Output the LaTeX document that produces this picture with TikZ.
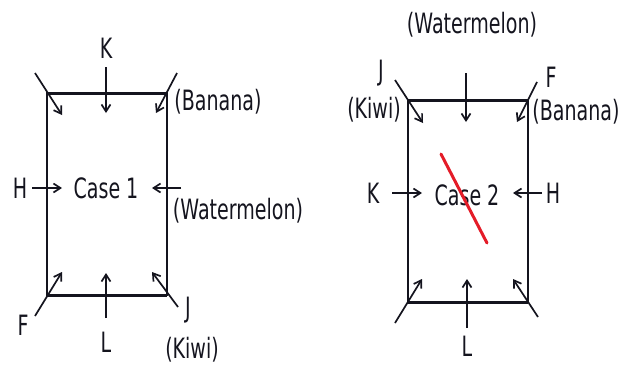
\documentclass[tikz,border=0pt]{standalone}
\usepackage{fontspec}
\setmainfont[FakeStretch=0.68]{DejaVu Sans}
\usetikzlibrary{arrows.meta}
\definecolor{ink}{RGB}{20,20,30}
\definecolor{cross}{RGB}{228,28,40}
\tikzset{
  lbl/.style={inner sep=0pt,text=ink,font=\fontsize{28}{32}\selectfont},
  box/.style={draw=ink,line width=2pt},
  arr/.style={draw=ink,line width=1.7pt,-{Straight Barb[length=7pt,width=9pt]}}
}
\begin{document}
\begin{tikzpicture}[x=1pt,y=-1pt]
        \useasboundingbox (0,0) rectangle (630,367);
        \coordinate(a1) at (47,93);
        \coordinate(b1) at (167,93);
        \coordinate(c1) at (167,295);
        \coordinate(d1) at (47,295);
        \draw[box](a1)--(b1)--(c1)--(d1)--cycle;
        \draw[box,line width=3pt](a1)--(b1) (d1)--(c1);
        \node[lbl](k1) at (106,48) {K};
        \node[lbl](h1) at (20,188) {H};
        \node[lbl](case1) at (106,188) {Case 1};
        \node[lbl](l1) at (106,342) {L};
        \node[lbl](f1) at (23,325) {F};
        \node[lbl](j1) at (188,310) {J};
        \node[lbl](kiwi1) at (192,350) {(Kiwi)};
        \node[lbl](ban1) at (218,102) {(Banana)};
        \node[lbl](wat1) at (238,211) {(Watermelon)};
        \coordinate(tl1s) at (35,73);  \coordinate(tl1e) at (62,115);
        \coordinate(tr1s) at (177,73); \coordinate(tr1e) at (156,113);
        \coordinate(bl1s) at (35,316); \coordinate(bl1e) at (62,272);
        \coordinate(br1s) at (178,307);\coordinate(br1e) at (152,272);
        \coordinate(k1s) at (106,67);  \coordinate(k1e) at (106,113);
        \coordinate(l1s) at (106,318); \coordinate(l1e) at (106,273);
        \coordinate(h1s) at (32,188);  \coordinate(h1e) at (62,188);
        \coordinate(w1s) at (181,188); \coordinate(w1e) at (152,188);
        \draw[arr](tl1s)--(tl1e);
        \draw[arr](tr1s)--(tr1e);
        \draw[arr](bl1s)--(bl1e);
        \draw[arr](br1s)--(br1e);
        \draw[arr](k1s)--(k1e);
        \draw[arr](l1s)--(l1e);
        \draw[arr](h1s)--(h1e);
        \draw[arr](w1s)--(w1e);
        \coordinate(a2) at (408,100);
        \coordinate(b2) at (528,100);
        \coordinate(c2) at (528,302);
        \coordinate(d2) at (408,302);
        \draw[box](a2)--(b2)--(c2)--(d2)--cycle;
        \draw[box,line width=3pt](a2)--(b2) (d2)--(c2);
        \node[lbl](wat2) at (472,25) {(Watermelon)};
        \node[lbl](j2) at (381,73) {J};
        \node[lbl](kiwi2) at (374,110) {(Kiwi)};
        \node[lbl](f2) at (551,77) {F};
        \node[lbl](ban2) at (576,112) {(Banana)};
        \node[lbl](k2) at (373,193) {K};
        \node[lbl](case2) at (467,195) {Case 2};
        \node[lbl](h2) at (553,193) {H};
        \node[lbl](l2) at (467,346) {L};
        \coordinate(t2s) at (466,73);  \coordinate(t2e) at (466,122);
        \coordinate(tl2s) at (395,80); \coordinate(tl2e) at (423,123);
        \coordinate(tr2s) at (537,82); \coordinate(tr2e) at (517,122);
        \coordinate(k2s) at (392,193); \coordinate(k2e) at (422,193);
        \coordinate(h2s) at (542,193); \coordinate(h2e) at (513,193);
        \coordinate(bl2s) at (395,323);\coordinate(bl2e) at (422,279);
        \coordinate(l2s) at (467,328); \coordinate(l2e) at (467,279);
        \coordinate(br2s) at (538,317);\coordinate(br2e) at (513,279);
        \draw[arr](t2s)--(t2e);
        \draw[arr](tl2s)--(tl2e);
        \draw[arr](tr2s)--(tr2e);
        \draw[arr](k2s)--(k2e);
        \draw[arr](h2s)--(h2e);
        \draw[arr](bl2s)--(bl2e);
        \draw[arr](l2s)--(l2e);
        \draw[arr](br2s)--(br2e);
        \coordinate(x1) at (441,154);
        \coordinate(x2) at (487,243);
        \draw[cross,line width=3pt,line cap=round](x1)--(x2);
\end{tikzpicture}
\end{document}
